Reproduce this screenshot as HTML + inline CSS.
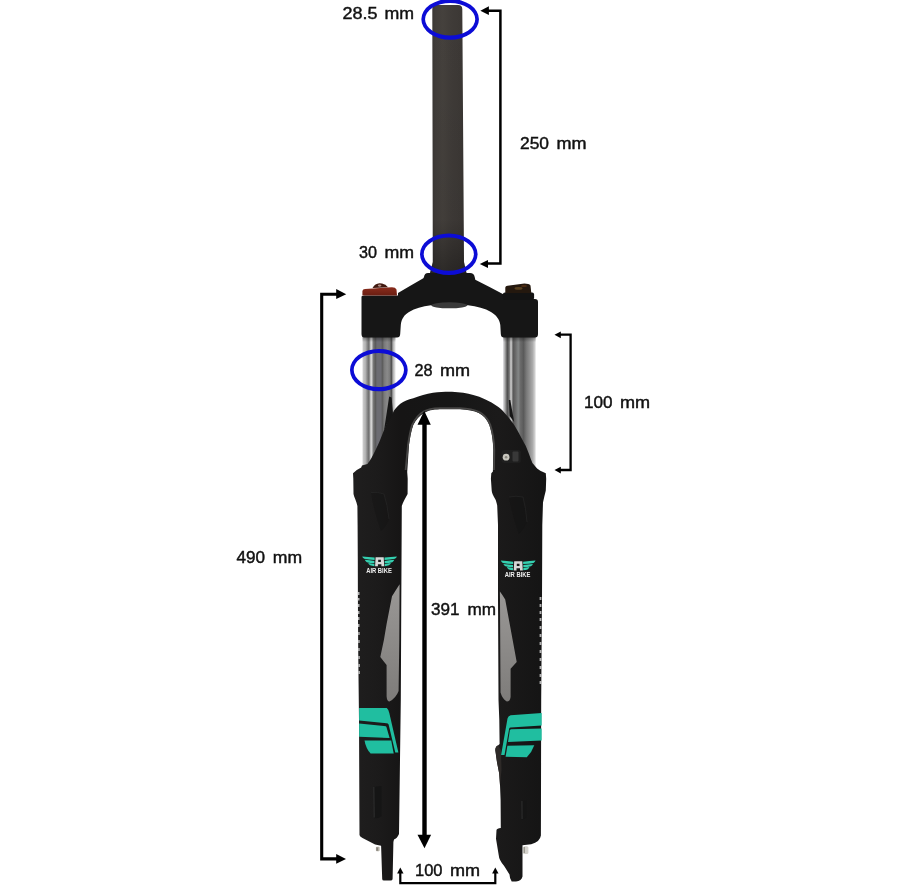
<!DOCTYPE html>
<html><head><meta charset="utf-8"><title>Fork</title>
<style>
html,body{margin:0;padding:0;background:#fff;}
body{width:900px;height:886px;overflow:hidden;}
svg{display:block;will-change:transform;}
text{font-family:"Liberation Sans",sans-serif;font-size:16.2px;fill:#111;stroke:#111;stroke-width:0.42px;}
.t{opacity:0.999;}
</style></head>
<body>
<svg width="900" height="886" viewBox="0 0 900 886">
<defs>
<linearGradient id="steer" x1="0" x2="1" y1="0" y2="0">
<stop offset="0" stop-color="#353230"/>
<stop offset="0.15" stop-color="#413d3a"/>
<stop offset="0.35" stop-color="#45413d"/>
<stop offset="0.6" stop-color="#3f3b38"/>
<stop offset="0.85" stop-color="#3c3835"/>
<stop offset="1" stop-color="#353230"/>
</linearGradient>
<linearGradient id="steerV" x1="0" x2="0" y1="0" y2="1">
<stop offset="0" stop-color="#000" stop-opacity="0"/>
<stop offset="0.8" stop-color="#000" stop-opacity="0.05"/>
<stop offset="1" stop-color="#000" stop-opacity="0.35"/>
</linearGradient>
<linearGradient id="stanL" x1="0" x2="1" y1="0" y2="0">
<stop offset="0" stop-color="#d6d6d6"/>
<stop offset="0.03" stop-color="#c6c6c6"/>
<stop offset="0.094" stop-color="#b0b0b0"/>
<stop offset="0.14" stop-color="#8a8a8a"/>
<stop offset="0.19" stop-color="#6e6e6e"/>
<stop offset="0.225" stop-color="#9a9a9a"/>
<stop offset="0.26" stop-color="#e6e6e6"/>
<stop offset="0.297" stop-color="#b0b0b0"/>
<stop offset="0.33" stop-color="#787878"/>
<stop offset="0.39" stop-color="#5a5a5a"/>
<stop offset="0.44" stop-color="#6c6c72"/>
<stop offset="0.56" stop-color="#6c6c72"/>
<stop offset="0.6" stop-color="#5a5a5a"/>
<stop offset="0.66" stop-color="#7a7a7a"/>
<stop offset="0.75" stop-color="#8a8a8a"/>
<stop offset="0.83" stop-color="#7a7a7a"/>
<stop offset="0.875" stop-color="#4a4a4a"/>
<stop offset="0.906" stop-color="#8a8a8a"/>
<stop offset="0.95" stop-color="#c8c8c8"/>
<stop offset="1" stop-color="#e2e2e2"/>
</linearGradient>
<linearGradient id="stanR" x1="0" x2="1" y1="0" y2="0">
<stop offset="0" stop-color="#c8c8cc"/>
<stop offset="0.047" stop-color="#b0b0b0"/>
<stop offset="0.094" stop-color="#707070"/>
<stop offset="0.134" stop-color="#4e4e4e"/>
<stop offset="0.19" stop-color="#7a7a7a"/>
<stop offset="0.24" stop-color="#d8d8d8"/>
<stop offset="0.275" stop-color="#8a8a8a"/>
<stop offset="0.306" stop-color="#585858"/>
<stop offset="0.375" stop-color="#6a6a6a"/>
<stop offset="0.4625" stop-color="#838686"/>
<stop offset="0.53" stop-color="#6a6a6a"/>
<stop offset="0.625" stop-color="#5a5a5a"/>
<stop offset="0.72" stop-color="#7a7a7a"/>
<stop offset="0.81" stop-color="#909090"/>
<stop offset="0.906" stop-color="#ababab"/>
<stop offset="0.97" stop-color="#cfcfcf"/>
<stop offset="1" stop-color="#e0e0e0"/>
</linearGradient>
<linearGradient id="legG" x1="353" x2="546" y1="0" y2="0" gradientUnits="userSpaceOnUse">
<stop offset="0" stop-color="#1f1e1e"/>
<stop offset="0.12" stop-color="#1c1b1b"/>
<stop offset="0.25" stop-color="#161515"/>
<stop offset="0.5" stop-color="#161616"/>
<stop offset="0.75" stop-color="#1b1a1a"/>
<stop offset="1" stop-color="#141414"/>
</linearGradient>
<linearGradient id="redG" x1="0" x2="0" y1="0" y2="1">
<stop offset="0" stop-color="#8a2c1c"/>
<stop offset="1" stop-color="#6a1e12"/>
</linearGradient>
<linearGradient id="stShadow" x1="0" x2="0" y1="0" y2="1">
<stop offset="0" stop-color="#000" stop-opacity="0.45"/>
<stop offset="1" stop-color="#000" stop-opacity="0"/>
</linearGradient>
<linearGradient id="grayDecal" x1="0" x2="0" y1="0" y2="1">
<stop offset="0" stop-color="#9a9896"/>
<stop offset="0.5" stop-color="#8c8a88"/>
<stop offset="1" stop-color="#7e7c7a"/>
</linearGradient>
</defs>

<!-- steerer tube -->
<path d="M432.3,9 Q432.3,5 436.3,5 L458,5 Q462.2,5 462.3,9 L464,262 L466.5,273 L430,273 L432.8,262 Z" fill="url(#steer)"/>
<path d="M432.3,9 Q432.3,5 436.3,5 L458,5 Q462.2,5 462.3,9 L464,262 L466.5,273 L430,273 L432.8,262 Z" fill="url(#steerV)"/>

<!-- stanchions -->
<rect x="362.5" y="335" width="33" height="135" fill="url(#stanL)"/>
<rect x="503.3" y="335" width="32.4" height="135" fill="url(#stanR)"/>
<rect x="362.5" y="336" width="33" height="6" fill="url(#stShadow)"/>
<rect x="503.3" y="336" width="32.4" height="6" fill="url(#stShadow)"/>

<!-- crown -->
<path d="M361.5,297 L361.5,334 Q361.5,337.5 364.5,337.5 L397,337.5 Q400,337.5 400.2,334 L400.8,325 C401.5,319 404,315 409,312 C415,308.5 422,306 431,305.2 L468,305.2 C477,306 485,308.5 491,312 C496,315 499.5,319 500.3,325 L500.8,334 Q501,337.5 504,337.5 L535,337.5 Q538,337.5 538,334 L538,302 Q538,299 535,299 L504,298.5 L503.3,294.3 Q490,287 475.3,279.7 L474.7,277 Q474,273 470,273 L428,273 Q424.5,273 424,277 L423.3,278.3 Q410,286 398,293 L398,295.5 L364.5,295.5 Q361.5,295.5 361.5,297 Z" fill="#161616"/>
<ellipse cx="449.3" cy="305.3" rx="18" ry="3" fill="#3a3a3a"/>
<!-- left red cap -->
<path d="M362.4,295.4 L362.4,291 Q362.8,289 365,288.9 L392,287.2 Q395.5,287.2 396.5,289.5 L397,295.4 Z" fill="url(#redG)"/>
<path d="M372.5,288 Q375,283.6 379.5,283.3 Q385,283.3 388,287.2 Z" fill="#40180f"/>
<ellipse cx="379.6" cy="285.6" rx="1.8" ry="1.1" fill="#b49088"/>
<!-- right collar + cap -->
<rect x="502.9" y="292.6" width="31.2" height="7.5" rx="2" fill="#131313"/>
<path d="M505.3,293 L505.3,287.5 Q505.5,285.9 507.5,285.8 L524.4,283.6 Q529,283.6 530.5,285.5 L531.3,293 Z" fill="#24180e"/>
<ellipse cx="518.5" cy="288.4" rx="4" ry="1.4" fill="#7a5a28" opacity="0.6"/>
<ellipse cx="524" cy="286" rx="3" ry="1" fill="#6a3a14" opacity="0.6"/>

<!-- lowers + arch -->
<path d="M353,473.2 L356.8,470 L361.2,467.6 L362,465.5 L367.4,463.9
C 370,460.5 373,455.5 375.2,450.7
C 377,447 378.5,444 379.9,440.6
C 381.5,436.5 383,432.5 384.5,429
C 386.5,424 389.5,417.5 392.7,413.3
C 396,406 403,400.5 413.3,398.3
C 420,395.5 426,394 433,392.8
C 440,391.8 446,391.6 452,391.7
C 460,392 467,393.3 473.3,395
C 481,397 490,401 497.3,406.3
C 502,409.5 507,415 513.3,423.7
C 517,429 521,437 525.8,446
C 528,451 530,457 532.4,462.9
L 537.1,468.4 L 540.3,470.8 L 545.8,473.2
L 546.2,478.7 L 545.8,490.5
C 545,494 544,498 543,502.4
L 542.3,525 L 542,600 L 541.2,700 L 540.9,835.5
Q 540,842 531.2,844.2 L 522.5,845.2
L 522.5,876.6 Q 521.5,881 516,881.5 L 511.7,881.5 Q 509.5,878 509.5,874.5
L 504,865.8 Q 499,860 498.7,855 L 496,838.7 L 496.5,830 Q 497,828.5 500.8,828
L 500.6,800 L 500,785 L 499.2,773.5 L 496.9,761.6 L 495.3,750 Q 495.5,746 498,745.5 L 499.6,744 L 499.3,720 L 498.5,700 L 498,600 L 498,525
L 497.2,505.6 C 496.5,502 495.8,500 495.3,499.2
C 493,495 491.8,493 491.7,490.5 L 490.9,478.7 L 491.3,473.2 L 492.9,471.6
L 493.3,450
C 493,440 492,433 489.3,425
C 487,419 483,415 478.7,413
C 474,410.8 468,409.5 460,409.2
L 440,409.2
C 432,409.5 428,410.5 424,413
C 419.5,415.5 416,420 413.3,425
C 411,431 410,438 409,445
L 407.2,472 L 407.7,478.7 L 407.6,494
C 405.5,498 403,502 401.8,506
L 401.7,525 L 401.3,600 L 400.8,700 L 399,834
Q 397,838.5 394,839.5 L 393.4,842 L 392.6,879
Q 392.5,880.6 390.5,880.6 L 384,880.6 Q 382.2,880.6 382.2,879 L 381.1,845.7
L 375.1,844.6 L 362.5,837.9 Q 359.6,836.5 359.5,834.9 L 359,720 L 358.2,650 L 357.9,600 L 357.8,560 L 357.6,525 L 357.4,506
C 356.5,501 354,497 353.5,494 L 353.3,478.7 Z" fill="url(#legG)"/>
<!-- lower leg details -->
<path d="M371,492.5 Q377,491.5 384,494 Q387.5,505 389,519 Q386,527 381,531 Q374,512 371,492.5 Z" fill="#0f0f0f" opacity="0.3"/>
<path d="M371,492.5 Q377,491.5 384,494 Q387.5,505 389,519" fill="none" stroke="#262626" stroke-width="0.7"/>
<path d="M509,497 Q516,495.5 523,497 Q526,508 527,522 Q523,530 519,534 Q512,515 509,497 Z" fill="#0f0f0f" opacity="0.3"/>
<path d="M509,497 Q516,495.5 523,497 Q526,508 527,522" fill="none" stroke="#262626" stroke-width="0.7"/>
<path d="M373.5,787 L381.5,786 L381.5,816 Q378,819 374,818 Z" fill="#151515"/>
<path d="M373.2,787 L374.4,787 L374.8,817.5 L373.6,817.5 Z" fill="#2c2c2c"/>
<path d="M521.6,801 L526.8,800.8 L526.8,817 Q524,820 521.8,819 Z" fill="#151515"/>
<path d="M521.3,801 L522.5,801 L522.7,819 L521.5,819 Z" fill="#2c2c2c"/>
<path d="M498,745.5 Q495.5,746 495.3,750 L496.9,761.6 L499.2,773.5 L500,785 L501.5,770 L501,750 Z" fill="#2e2a28"/>
<!-- bolts -->
<rect x="375.9" y="846.8" width="3.7" height="4.5" rx="1" fill="#b4b0a6"/><rect x="376.6" y="847.5" width="1" height="3.2" fill="#6a6660"/>
<rect x="523" y="846.3" width="5.4" height="7.6" rx="1.5" fill="#d4d2cc"/><rect x="523.6" y="847" width="1.4" height="6" fill="#9a9890"/>
<rect x="501.5" y="450" width="19.3" height="13" rx="2.5" fill="#1f1f1f"/>
<rect x="512.5" y="451.5" width="6" height="10" rx="1" fill="#383838"/>
<circle cx="506.1" cy="457.2" r="3.4" fill="#c8c6be"/>
<circle cx="506.1" cy="457.2" r="1.3" fill="#8a8880"/>
<!-- arch inner bevel -->
<path d="M405.6,470 L408,445 C409,438 410,431 412.3,424.6 C415,419.3 418.5,414.5 423.3,411.8 C427.5,409.3 432,408.4 440,408.2 L460,408.2 C468.5,408.5 474.5,409.8 479.3,412.1 C483.8,414.3 487.5,418.3 490.2,424.6 C493,433 494,440 494.3,450 L494,470" fill="none" stroke="#474645" stroke-width="1.8"/>
<!-- shadow wedges -->
<path d="M389.2,396.5 L391.6,397.5 L393,413.5 L387,424 L384,430.5 Z" fill="#161616"/>
<path d="M508.8,400 L510.3,400 L514.2,422 L509.6,416 Z" fill="#161616"/>

<!-- gray decals -->
<path d="M399.6,584.3 Q396,590 392,596.2 L386.6,624 L383.9,640 L380.3,657 L386.6,664.9 L386.6,696.5 Q387,701.5 389.5,701.5 Q396,698 398.6,691 L399.3,640 Z" fill="url(#grayDecal)"/>
<path d="M499.9,591.5 Q502.5,595 505.2,599.4 L516.7,662 L510.6,668.8 L510.6,697 Q510,701.5 506.8,701.5 Q502.5,699 500.5,692.4 L500,600 Z" fill="url(#grayDecal)"/>
<!-- teal decals -->
<g fill="#20bea0">
<path d="M359.1,708.1 L386.8,708.1 Q388.6,709.5 389.3,712.9 L398.4,752.4 L395.3,752.4 L388.6,724.6 Q388,723.2 386.5,723.2 L359.1,720.4 Z"/>
<path d="M359.1,723.6 L385.6,726.2 Q386.3,726.4 386.5,727.2 L389.6,737.9 L359.1,736.8 Z"/>
<path d="M364.5,740.6 L391.2,740.6 L393.7,753.6 L370.6,753.6 Q366,749 364.5,740.6 Z"/>
<path d="M541.7,713.1 L510.6,715.2 Q508,716 507.5,718.5 L501.1,755.1 L504.5,755.1 L509.2,728.5 Q509.6,727.5 510.5,727.4 L541.7,725.5 Z"/>
<path d="M541.7,728.6 L511,729.2 Q510,729.5 509.8,730.5 L508,741.9 L541.7,740.4 Z"/>
<path d="M534.3,745.3 L507.4,745.7 L505.6,756.8 L526.8,757.2 Q532,752 534.3,745.3 Z"/>
</g>

<!-- logos -->
<g id="logoL">
<g fill="#34d0b0">
<path d="M362.2,556.5 Q368,557 374.6,557.6 L374.6,560 Q368.5,559.6 364.2,558.8 Q362.6,558 362.2,556.5 Z"/>
<path d="M364.8,559.8 Q369.5,560.4 374.4,560.9 L374.4,563.2 Q370,563 366.8,562.2 Q365.2,561.3 364.8,559.8 Z"/>
<path d="M368.2,563.0 Q371.5,563.5 374.4,563.9 L374.4,566.2 Q372,566 370.2,565.3 Q368.6,564.4 368.2,563.0 Z"/>
<path d="M396.9,556.5 Q391.1,557.0 384.5,557.6 L384.5,560.0 Q390.6,559.6 394.9,558.8 Q396.5,558.0 396.9,556.5 Z"/>
<path d="M394.3,559.8 Q389.6,560.4 384.7,560.9 L384.7,563.2 Q389.1,563.0 392.3,562.2 Q393.9,561.3 394.3,559.8 Z"/>
<path d="M390.9,563.0 Q387.6,563.5 384.7,563.9 L384.7,566.2 Q387.1,566.0 388.9,565.3 Q390.5,564.4 390.9,563.0 Z"/>
</g>
<path fill-rule="evenodd" fill="#d8d8d8" d="M375.6,557.2 L383.7,557.2 L384.2,566.3 L381.4,566.3 L381.4,564.2 L377.9,564.2 L377.9,566.3 L375.1,566.3 Z M378.2,559.7 L380.9,559.7 L380.9,561.9 L378.2,561.9 Z"/>
<text x="366.2" y="572.8" textLength="25.6" lengthAdjust="spacingAndGlyphs" style="font-size:6.6px;font-weight:bold;fill:#eee;stroke:none">AIR BIKE</text>
</g>
<use href="#logoL" transform="translate(138.6,4.1)"/>
<!-- edge text marks -->
<g fill="#d8d8d8" opacity="0.8">
<rect x="358" y="592" width="1.5" height="3"/><rect x="358" y="598" width="1.5" height="2.5"/><rect x="358" y="604" width="1.5" height="3"/><rect x="358" y="611" width="1.5" height="3"/><rect x="358" y="617" width="1.5" height="3"/><rect x="358" y="624" width="1.5" height="3"/><rect x="358.2" y="632" width="1.5" height="3"/><rect x="358.2" y="640" width="1.5" height="3"/><rect x="358.2" y="648" width="1.5" height="3"/><rect x="358.3" y="656" width="1.5" height="3"/><rect x="358.4" y="664" width="1.5" height="3"/><rect x="358.4" y="671" width="1.5" height="3"/>
<rect x="539.6" y="597" width="1.8" height="3"/><rect x="539.6" y="604" width="1.8" height="3"/><rect x="539.6" y="611" width="1.8" height="3"/><rect x="539.6" y="618" width="1.8" height="3"/><rect x="539.6" y="626" width="1.8" height="3"/><rect x="539.6" y="634" width="1.8" height="3"/><rect x="539.6" y="642" width="1.8" height="3"/><rect x="539.6" y="650" width="1.8" height="3"/><rect x="539.6" y="658" width="1.8" height="3"/><rect x="539.6" y="666" width="1.8" height="3"/><rect x="539.6" y="674" width="1.8" height="3"/><rect x="539.6" y="681" width="1.8" height="3"/>
</g>

<!-- annotations: ellipses -->
<path fill="#0c0cd6" fill-rule="evenodd" d="M421.35,19.3 a28.8,20.4 0 1,0 57.60,0 a28.8,20.4 0 1,0 -57.60,0 Z M425.05,19.3 a25.1,16.2 0 1,0 50.20,0 a25.1,16.2 0 1,0 -50.20,0 Z M420.00,254.2 a28.8,20.8 0 1,0 57.60,0 a28.8,20.8 0 1,0 -57.60,0 Z M423.70,254.2 a25.1,16.6 0 1,0 50.20,0 a25.1,16.6 0 1,0 -50.20,0 Z M350.00,370.1 a28.85,21.2 0 1,0 57.70,0 a28.85,21.2 0 1,0 -57.70,0 Z M353.70,370.1 a25.15,17 0 1,0 50.30,0 a25.15,17 0 1,0 -50.30,0 Z"/>

<!-- bracket lines -->
<g fill="none" stroke="#000" stroke-linejoin="miter">
<polyline points="487,10.7 500.4,10.7 500.4,263.6 487,263.6" stroke-width="2.5"/>
<polyline points="337,294.3 321.7,294.3 321.7,858.9 337,858.9" stroke-width="3.1"/>
<polyline points="560,334.7 570.6,334.7 570.6,470 560,470" stroke-width="2.3"/>
<polyline points="400.3,873 400.3,883.2 495.3,883.2 495.3,873" stroke-width="2.2"/>
<line x1="424.5" y1="423" x2="424.5" y2="836" stroke-width="4.4"/>
</g>
<g fill="#000">
<polygon points="480.4,10.7 488.9,6.2 488.9,14.9"/>
<polygon points="479.8,263.9 488,259.9 488,268.1"/>
<polygon points="346.2,294.2 336.2,289.1 336.2,299.1"/>
<polygon points="346,858.9 336.2,854.1 336.2,863.8"/>
<polygon points="554.5,334.7 560.8,331.5 560.8,338.2"/>
<polygon points="554.5,470 560.8,466.8 560.8,473.4"/>
<polygon points="424.2,410.8 417.5,424.7 430.8,424.7"/>
<polygon points="424.5,848.3 417.5,834.7 431.1,834.7"/>
<polygon points="400.3,867.6 397.1,873.6 403.5,873.6"/>
<polygon points="495.3,867.6 492.1,873.6 498.5,873.6"/>
</g>

<!-- text labels -->
<g class="t">
<text x="342.50" y="19.3" textLength="35.01" lengthAdjust="spacingAndGlyphs">28.5</text>
<text x="384.50" y="19.3" textLength="29.57" lengthAdjust="spacingAndGlyphs">mm</text>
<text x="520.00" y="149.1" textLength="29.02" lengthAdjust="spacingAndGlyphs">250</text>
<text x="556.50" y="149.1" textLength="30.06" lengthAdjust="spacingAndGlyphs">mm</text>
<text x="359.00" y="258.0" textLength="18.00" lengthAdjust="spacingAndGlyphs">30</text>
<text x="384.50" y="258.0" textLength="29.57" lengthAdjust="spacingAndGlyphs">mm</text>
<text x="414.50" y="375.9" textLength="18.06" lengthAdjust="spacingAndGlyphs">28</text>
<text x="440.00" y="375.9" textLength="30.09" lengthAdjust="spacingAndGlyphs">mm</text>
<text x="584.00" y="408.2" textLength="28.56" lengthAdjust="spacingAndGlyphs">100</text>
<text x="620.00" y="408.2" textLength="30.13" lengthAdjust="spacingAndGlyphs">mm</text>
<text x="236.50" y="563.2" textLength="28.56" lengthAdjust="spacingAndGlyphs">490</text>
<text x="272.75" y="563.2" textLength="29.30" lengthAdjust="spacingAndGlyphs">mm</text>
<text x="431.00" y="614.9" textLength="28.52" lengthAdjust="spacingAndGlyphs">391</text>
<text x="467.50" y="614.9" textLength="28.54" lengthAdjust="spacingAndGlyphs">mm</text>
<text x="415.00" y="875.9" textLength="27.52" lengthAdjust="spacingAndGlyphs">100</text>
<text x="450.00" y="875.9" textLength="30.09" lengthAdjust="spacingAndGlyphs">mm</text>
</g>
</svg>
</body></html>
